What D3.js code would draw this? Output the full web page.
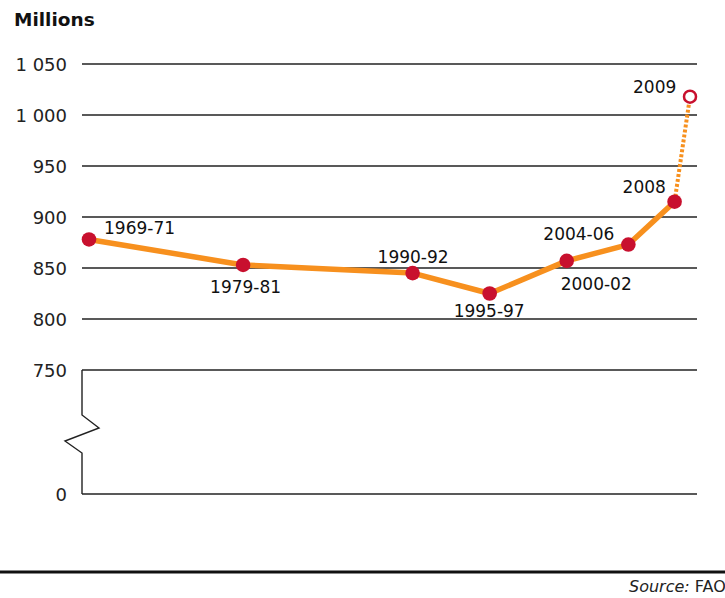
<!DOCTYPE html>
<html><head><meta charset="utf-8">
<script src="https://cdn.jsdelivr.net/npm/d3@7"></script>
<style>body{margin:0;background:#fff}svg{display:block}</style>
</head><body>
<script>
const periods = ["1969-71","1979-81","1990-92","1995-97","2000-02","2004-06","2008","2009"];
const midYears = [1970,1980,1991,1996,2001,2005,2008,2009];
const values = [878,853,845,825,857,873,915,1018];
const yTicks = [750,800,850,900,950,1000,1050];
const yTickLabels = ["750","800","850","900","950","1 000","1 050"];

const W=725,H=598;
const svg=d3.select("body").append("svg").attr("width",W).attr("height",H);
const font="'DejaVu Sans', sans-serif";
const x=d3.scaleLinear().domain([1970,2009]).range([89,690]);
const y=d3.scaleLinear().domain([750,1050]).range([370,64]);
const xL=82,xR=697,y0=494;

svg.append("text").attr("x",14).attr("y",26).attr("font-family",font).attr("font-weight","bold").attr("font-size",18.5).attr("fill","#111").text("Millions");

yTicks.forEach((t,i)=>{
  svg.append("line").attr("x1",xL).attr("x2",xR).attr("y1",y(t)).attr("y2",y(t)).attr("stroke","#222").attr("stroke-width",1.6);
  svg.append("text").attr("x",67).attr("y",y(t)+6.5).attr("text-anchor","end").attr("font-family",font).attr("font-size",18).attr("fill","#222").text(yTickLabels[i]);
});
svg.append("line").attr("x1",xL).attr("x2",xR).attr("y1",y0).attr("y2",y0).attr("stroke","#222").attr("stroke-width",1.6);
svg.append("text").attr("x",67).attr("y",y0+6.5).attr("text-anchor","end").attr("font-family",font).attr("font-size",18).attr("fill","#222").text("0");

svg.append("path").attr("d",`M${xL},${y(750)}V415L99,428L65,441L${xL},453V${y0}`).attr("fill","none").attr("stroke","#222").attr("stroke-width",1.4);

const data=periods.map((p,i)=>({p,yr:midYears[i],v:values[i]}));
const line=d3.line().x(d=>x(d.yr)).y(d=>y(d.v));
svg.append("path").attr("d",line(data.slice(0,7))).attr("fill","none").attr("stroke","#F7901E").attr("stroke-width",5.5).attr("stroke-linejoin","round");
svg.append("path").attr("d",line(data.slice(6))).attr("fill","none").attr("stroke","#F7901E").attr("stroke-width",4).attr("stroke-dasharray","3,2");

svg.selectAll("circle.pt").data(data.slice(0,7)).join("circle").attr("class","pt")
  .attr("cx",d=>x(d.yr)).attr("cy",d=>y(d.v)).attr("r",7.3).attr("fill","#C8102E");
svg.append("circle").attr("cx",x(2009)).attr("cy",y(values[7])).attr("r",6).attr("fill","#fff").attr("stroke","#C8102E").attr("stroke-width",2.5);

const lab={
 "1969-71":[15,-5],
 "1979-81":[-33,28],
 "1990-92":[-35,-10],
 "1995-97":[-36,23],
 "2000-02":[-6,29],
 "2004-06":[-85,-5],
 "2008":[-52,-9],
 "2009":[-57,-4]
};
svg.selectAll("text.lbl").data(data).join("text").attr("class","lbl")
  .attr("x",d=>x(d.yr)+lab[d.p][0]).attr("y",d=>y(d.v)+lab[d.p][1])
  .attr("font-family",font).attr("font-size",17).attr("fill","#111").text(d=>d.p);

svg.append("line").attr("x1",0).attr("x2",W).attr("y1",572).attr("y2",572).attr("stroke","#111").attr("stroke-width",3);
const s=svg.append("text").attr("x",629).attr("y",592).attr("font-family",font).attr("font-size",16).attr("fill","#222");
s.append("tspan").attr("font-style","italic").text("Source:");
s.append("tspan").text(" FAO");
</script>
</body></html>
